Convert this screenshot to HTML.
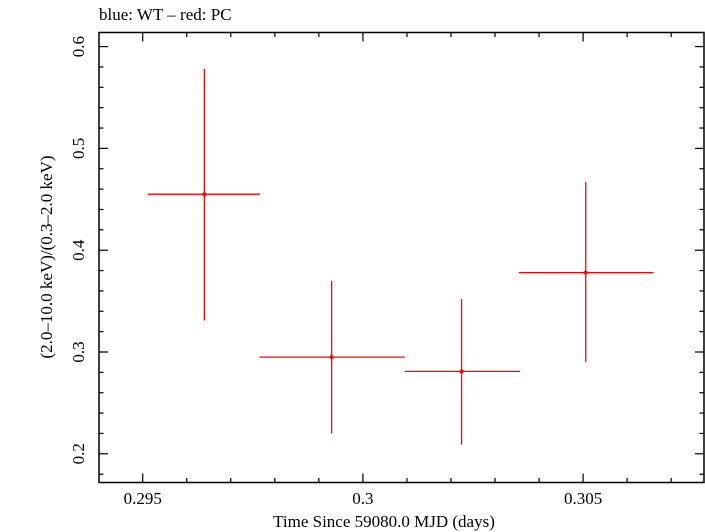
<!DOCTYPE html>
<html><head><meta charset="utf-8"><style>
html,body{margin:0;padding:0;background:#fff;}
svg{display:block;font-family:"Liberation Serif",serif;}
</style></head><body>
<svg id="chart" width="705" height="532">
<text x="99" y="20" font-size="17">blue: WT – red: PC</text>
<rect x="99" y="32.5" width="605" height="450" fill="none" stroke="#000" stroke-width="1.5"/>
<g id="axes"></g>
<g id="marks"></g>
<text x="384" y="527" font-size="17" text-anchor="middle">Time Since 59080.0 MJD (days)</text>
<text transform="translate(52,257) rotate(-90)" font-size="17" text-anchor="middle">(2.0–10.0 keV)/(0.3–2.0 keV)</text>
</svg>
<script>
const xCenters=[0.2964,0.29929,0.30224,0.30506];
const xLow=[0.29512,0.29765,0.30095,0.30354];
const xHigh=[0.29766,0.30095,0.30357,0.30660];
const yValues=[0.455,0.295,0.281,0.378];
const yUpper=[0.578,0.370,0.352,0.467];
const yLower=[0.331,0.220,0.209,0.290];
const xTicks=[0.295,0.3,0.305];
const xTickLabels=["0.295","0.3","0.305"];
const yTicks=[0.2,0.3,0.4,0.5,0.6];
const yTickLabels=["0.2","0.3","0.4","0.5","0.6"];
const NS="http://www.w3.org/2000/svg";
function xs(v){return 362.9+(v-0.3)/0.005*220.2;}
function ys(v){return 453.8-(v-0.2)/0.1*101.8;}
const L=99,R=704,T=32.5,B=482.5;
const axes=document.getElementById('axes'),marks=document.getElementById('marks');
function line(p,x1,y1,x2,y2,c,w){const l=document.createElementNS(NS,'line');l.setAttribute('x1',x1);l.setAttribute('y1',y1);l.setAttribute('x2',x2);l.setAttribute('y2',y2);l.setAttribute('stroke',c);l.setAttribute('stroke-width',w);p.appendChild(l);return l;}
function txt(p,x,y,s,a,tr){const t=document.createElementNS(NS,'text');t.setAttribute('x',x);t.setAttribute('y',y);t.setAttribute('font-size','17');t.setAttribute('text-anchor',a);if(tr)t.setAttribute('transform',tr);t.textContent=s;p.appendChild(t);return t;}
// x minor ticks every 0.001
for(let i=0;i<=14;i++){const v=0.294+i*0.001;const x=xs(v);if(x<L||x>R)continue;const maj=Math.abs((v*1000)%5)<1e-6||Math.abs((v*1000)%5-5)<1e-6;const len=maj?9:4.5;
const t1=line(axes,x,B,x,B-len,'#000',1.2);


const t2=line(axes,x,T,x,T+len,'#000',1.2);

}
xTicks.forEach((v,i)=>{const t=txt(axes,xs(v),504,xTickLabels[i],'middle');

});
for(let i=0;i<=25;i++){const v=0.18+i*0.02;const y=ys(v);if(y<T||y>B)continue;const maj=Math.abs(Math.round(v*10)-v*10)<1e-6;const len=maj?9:4.5;
const t1=line(axes,L,y,L+len,y,'#000',1.2);


const t2=line(axes,R,y,R-len,y,'#000',1.2);

}
yTicks.forEach((v,i)=>{const y=ys(v);const t=txt(axes,0,0,yTickLabels[i],'middle','translate(84,'+y+') rotate(-90)');

});
xCenters.forEach((c,i)=>{const g=document.createElementNS(NS,'g');


marks.appendChild(g);
const h=line(g,xs(xLow[i]),ys(yValues[i]),xs(xHigh[i]),ys(yValues[i]),'#f00',1.3);


const v=line(g,xs(c),ys(yUpper[i]),xs(c),ys(yLower[i]),'#f00',1.3);


const d=document.createElementNS(NS,'circle');d.setAttribute('cx',xs(c));d.setAttribute('cy',ys(yValues[i]));d.setAttribute('r',2);d.setAttribute('fill','#f00');


g.appendChild(d);});
</script>
</body></html>
